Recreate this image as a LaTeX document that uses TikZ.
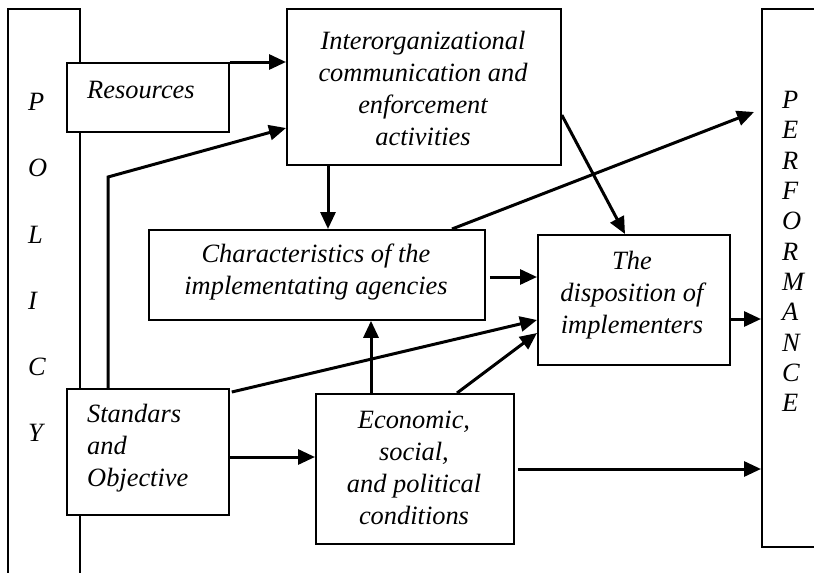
\documentclass[tikz,border=0pt]{standalone}
\usepackage{fontspec}
\setmainfont{Liberation Serif}
\usetikzlibrary{arrows.meta,calc}
\begin{document}
\begin{tikzpicture}[x=1pt,y=-1pt,
  box/.style={draw, line width=1.8pt, fill=white, inner sep=0pt, anchor=north west},
  lbl/.style={font=\fontsize{26.4}{32}\selectfont\itshape, inner sep=0pt},
  arr/.style={line width=3pt, -{Triangle[length=17pt,width=15pt]}}]
\useasboundingbox (0,0) rectangle (814,573);

% side columns (open at the page edge)
\node[box, minimum width=72pt, minimum height=600pt] (policy) at (7,8) {};
\node[box, minimum width=79pt, minimum height=538pt] (perf) at (761,8) {};

% boxes
\node[box, minimum width=162pt, minimum height=69pt] (res) at (66,62) {};
\node[box, minimum width=274pt, minimum height=156pt] (inter) at (286,8) {};
\node[box, minimum width=336pt, minimum height=90pt] (char) at (148,229) {};
\node[box, minimum width=192pt, minimum height=130pt] (disp) at (537,234) {};
\node[box, minimum width=162pt, minimum height=126pt] (std) at (66,388) {};
\node[box, minimum width=198pt, minimum height=150pt] (econ) at (315,393) {};

% texts
\foreach \l [count=\i] in {P,O,L,I,C,Y}
  \node[lbl, anchor=west] (pol-\i) at (28,{102+66.2*(\i-1)}) {\l};
\foreach \l [count=\i] in {P,E,R,F,O,R,M,A,N,C,E}
  \node[lbl, anchor=west] (perf-\i) at (782,{100+30.3*(\i-1)}) {\l};

\node[lbl, anchor=west] (res-t) at (87,90) {Resources};
\node[lbl, align=center] (inter-t) at (423,88) {Interorganizational\\communication and\\enforcement\\activities};
\node[lbl, align=center] (char-t) at (316,272) {Characteristics of the\\implementating agencies};
\node[lbl, align=center] (disp-t) at (632,295) {The\\disposition of\\implementers};
\node[lbl, align=left, anchor=west] (std-t) at (87,448) {Standars\\and\\Objective};
\node[lbl, align=center] (econ-t) at (414,468) {Economic,\\social,\\and political\\conditions};

% connectors
\coordinate (bend) at (108,177);
\coordinate (ptip) at (754,112);
\draw[arr] (res.north east) -- (res.north east -| inter.west);
\draw[arr] (bend |- std.north) -- (bend) -- (inter.west |- 0,128);
\draw[arr] (inter.south -| 328,0) -- (char.north -| 328,0);
\draw[arr] (inter.east |- 0,115) -- (disp.north -| 625,0);
\draw[arr] (char.north -| 452,0) -- (ptip);
\draw[arr] ($(char.east |- 0,277)+(4,0)$) -- (disp.west |- 0,277);
\draw[arr] (disp.east |- 0,319) -- (perf.west |- 0,319);
\draw[arr] ($(std.north east)+(2,4)$) -- (disp.west |- 0,320);
\draw[arr] (econ.north -| 457,0) -- (disp.west |- 0,333);
\draw[arr] (std.east |- 0,457) -- (econ.west |- 0,457);
\draw[arr] (econ.north -| 371,0) -- (char.south -| 371,0);
\draw[arr] ($(econ.east |- 0,469)+(3,0)$) -- (perf.west |- 0,469);
\end{tikzpicture}
\end{document}
